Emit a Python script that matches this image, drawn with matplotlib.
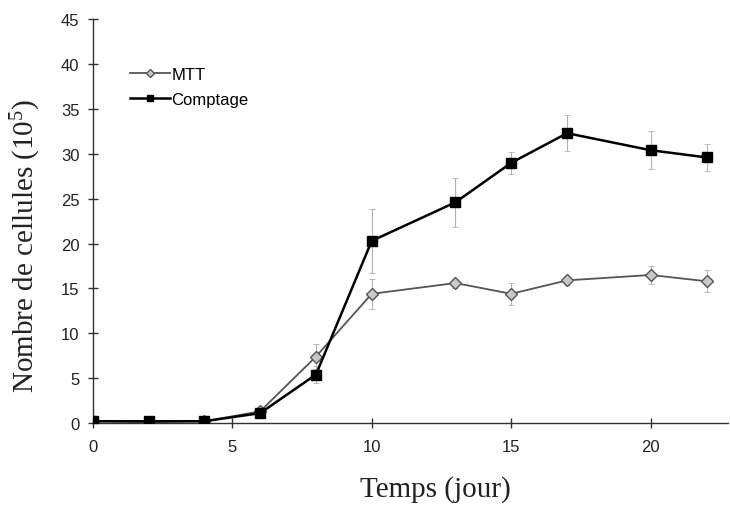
import matplotlib
matplotlib.use("Agg")
import matplotlib.pyplot as plt

plt.rcParams['mathtext.fontset'] = 'custom'
plt.rcParams['mathtext.rm'] = 'Liberation Serif'
plt.rcParams['mathtext.it'] = 'Liberation Serif:italic'

days = [0, 2, 4, 6, 8, 10, 13, 15, 17, 20, 22]
mtt = [0.2, 0.1, 0.2, 1.3, 7.4, 14.4, 15.6, 14.4, 15.9, 16.5, 15.8]
mtt_err = [0.1, 0.1, 0.1, 0.3, 1.4, 1.7, 0.5, 1.2, 0.5, 1.0, 1.2]
comptage = [0.2, 0.2, 0.2, 1.1, 5.4, 20.3, 24.6, 29.0, 32.3, 30.4, 29.6]
comptage_err = [0.1, 0.1, 0.1, 0.2, 0.9, 3.6, 2.7, 1.2, 2.0, 2.1, 1.5]

fig = plt.figure(figsize=(7.3, 5.06), dpi=100)
ax = fig.add_axes([0.127, 0.162, 0.870, 0.798])

ax.errorbar(days, mtt, yerr=mtt_err, fmt='none', ecolor='#b0b0b0', elinewidth=0.8,
            capsize=2, capthick=0.6, zorder=1)
ax.errorbar(days, comptage, yerr=comptage_err, fmt='none', ecolor='#b0b0b0', elinewidth=0.8,
            capsize=2, capthick=0.6, zorder=1)
ax.plot(days, mtt, color='#555555', lw=1.3, marker='D', ms=6, mfc='#c8c8c8',
        mec='#555555', mew=1.0, label='MTT', zorder=3)
ax.plot(days, comptage, color='black', lw=1.8, marker='s', ms=7, mfc='black',
        mec='black', label='Comptage', zorder=4)

ax.set_xlim(0, 22.76)
ax.set_ylim(0, 45)
ax.set_xticks([0, 5, 10, 15, 20])
ax.set_yticks(range(0, 46, 5))
for s in ['top', 'right']:
    ax.spines[s].set_visible(False)
for s in ['left', 'bottom']:
    ax.spines[s].set_color('#333333')
    ax.spines[s].set_linewidth(1.0)
ax.tick_params(direction='inout', length=7, width=1.0, color='#333333',
               labelsize=12, labelcolor='#222222')
for lab in ax.get_xticklabels() + ax.get_yticklabels():
    lab.set_family('Liberation Sans')
ax.tick_params(axis='x', pad=8)
ax.tick_params(axis='y', pad=6)

ax.set_xlabel('Temps (jour)', family='Liberation Serif', fontsize=21, color='#222222')
ax.xaxis.set_label_coords(0.54, -0.13)
ax.set_ylabel('Nombre de cellules (10$^{\\mathregular{5}}$)', family='Liberation Serif', fontsize=21,
              color='#222222')
ax.yaxis.set_label_coords(-0.078, 0.44)

leg = ax.legend(loc='upper left', bbox_to_anchor=(0.035, 0.92), frameon=False,
                prop={'family': 'Liberation Sans', 'size': 12}, handlelength=2.4,
                handletextpad=0.1, labelspacing=0.6, markerscale=0.65)

fig.savefig('out.png', dpi=100)
